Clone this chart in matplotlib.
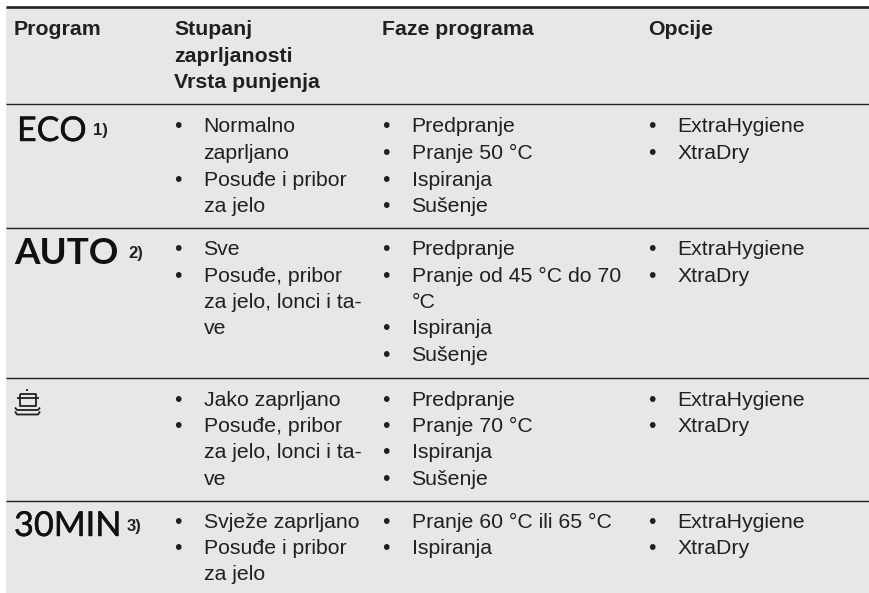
import matplotlib
matplotlib.use("Agg")
import matplotlib.pyplot as plt
import matplotlib.patheffects as pe
from matplotlib.patches import Rectangle

plt.rcParams['font.family'] = ['Liberation Sans', 'DejaVu Sans']

# Table content
headers = ["Program", "Stupanj\nzaprljanosti\nVrsta punjenja", "Faze programa", "Opcije"]
programs = ["ECO", "AUTO", "", "30MIN"]
footnotes = ["1)", "2)", "", "3)"]
soil = [
    [["Normalno", "zaprljano"], ["Posuđe i pribor", "za jelo"]],
    [["Sve"], ["Posuđe, pribor", "za jelo, lonci i ta-", "ve"]],
    [["Jako zaprljano"], ["Posuđe, pribor", "za jelo, lonci i ta-", "ve"]],
    [["Svježe zaprljano"], ["Posuđe i pribor", "za jelo"]],
]
phases = [
    [["Predpranje"], ["Pranje 50 °C"], ["Ispiranja"], ["Sušenje"]],
    [["Predpranje"], ["Pranje od 45 °C do 70", "°C"], ["Ispiranja"], ["Sušenje"]],
    [["Predpranje"], ["Pranje 70 °C"], ["Ispiranja"], ["Sušenje"]],
    [["Pranje 60 °C ili 65 °C"], ["Ispiranja"]],
]
options = [["ExtraHygiene"], ["XtraDry"]]

W, H = 869, 593
TXT = '#231f20'
FS = 15.3
PITCH = 26.5

fig = plt.figure(figsize=(W / 100, H / 100), dpi=100)
ax = fig.add_axes([0, 0, 1, 1])
ax.set_xlim(0, W)
ax.set_ylim(H, 0)
ax.axis('off')

# background and rules
ax.add_patch(Rectangle((6, 7), W - 6, H - 7, fc='#e6e7e9', ec='none'))
ax.plot([6, W], [6.5, 6.5], color=TXT, lw=1.9, solid_capstyle='butt')
for y in [103.8, 227.6, 377.8, 500.8]:
    ax.plot([6, W], [y, y], color=TXT, lw=1.0, solid_capstyle='butt')

# header
hx = [14, 174, 382, 648]
for x, h in zip(hx, headers):
    for i, line in enumerate(h.split("\n")):
        ax.text(x, 35 + i * PITCH, line, fontsize=FS, fontweight='bold',
                color=TXT, va='baseline')


def bullets(items, x, y):
    for item in items:
        ax.text(x, y, "•", fontsize=FS, color=TXT, va='baseline', ha='left')
        for line in item:
            ax.text(x + 29.5, y, line, fontsize=FS, color=TXT, va='baseline')
            y += PITCH


baselines = [132.5, 255, 405.5, 527.5]
big_size = [24.5, 26.5, 0, 24.7]
big_weight = ['normal', 'bold', 'normal', 'normal']
big_x = [17, 14, 0, 14]
note_x = [93, 128, 0, 127]
for r, y in enumerate(baselines):
    bullets(soil[r], 174, y)
    bullets(phases[r], 382, y)
    bullets(options, 648, y)
    if programs[r]:
        t = ax.text(big_x[r], y + 8.5, programs[r], fontsize=big_size[r], family='Lato',
                    fontweight=big_weight[r], color='#111111', va='baseline')
        if big_weight[r] == 'normal':
            # source logos are a bit heavier than Lato regular
            t.set_path_effects([pe.withStroke(linewidth=0.3, foreground='#111111')])
        ax.text(note_x[r], y + 3, footnotes[r], fontsize=12, fontweight='bold',
                color=TXT, va='baseline')

# pot-and-plate symbol of the third program
icon = dict(color=TXT, lw=1.3, solid_capstyle='butt')
ax.plot([20, 20, 36, 36, 20], [393.5, 405.5, 405.5, 393.5, 393.5], **icon)
ax.plot([17, 39], [398, 398], **icon)
ax.plot([27, 27], [389, 391], **icon)
ax.plot([15, 17, 38, 40], [407.5, 410, 410, 407.5], **icon)
ax.plot([15, 17, 38, 40], [411.5, 414.5, 414.5, 411.5], **icon)

fig.savefig('out.png', dpi=100)
